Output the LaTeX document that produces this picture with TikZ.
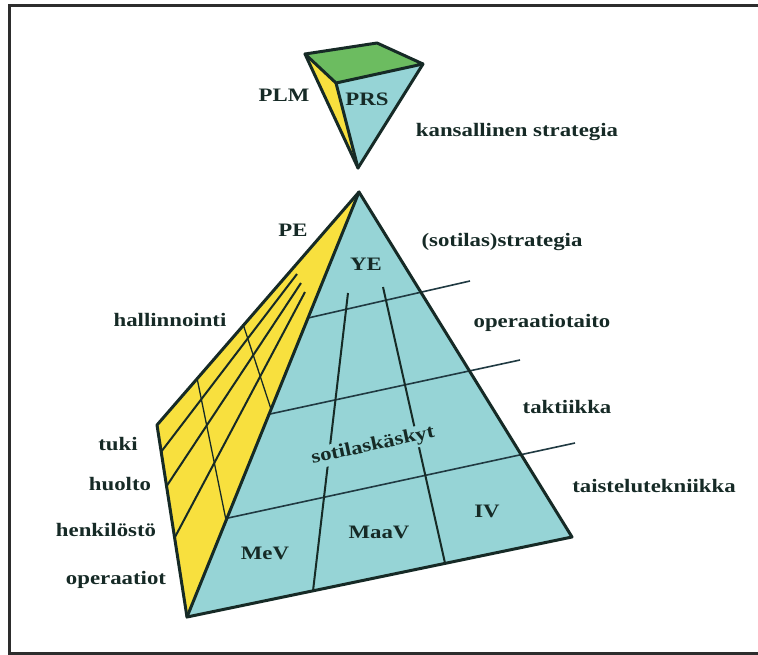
\documentclass[tikz,border=0pt]{standalone}
\usepackage{fontspec}
\setmainfont{Liberation Serif}[FakeStretch=1.2]
\definecolor{cy}{RGB}{150,212,214}
\definecolor{ye}{RGB}{248,224,62}
\definecolor{gr}{RGB}{108,188,96}
\definecolor{ed}{RGB}{22,42,38}
\definecolor{ln}{RGB}{32,58,66}
\definecolor{fr}{RGB}{45,45,45}
\begin{document}
\begin{tikzpicture}[x=1pt,y=-1pt,
  edge/.style={draw=ed,line width=3pt,line join=round,line cap=round},
  inner/.style={draw=ed,line width=2pt},
  thin/.style={draw=ed,line width=1.3pt},
  level/.style={draw=ln,line width=1.6pt},
  lbl/.style={font=\bfseries\fontsize{19}{22}\selectfont,text=ed,inner sep=1pt}]
\useasboundingbox (0,0) rectangle (758,654);
\fill[white] (0,0) rectangle (758,654);
% frame
\coordinate (F1) at (9.5,653);
\coordinate (F2) at (9.5,5.5);
\coordinate (F3) at (758,5.5);
\coordinate (F4) at (758,653);
\draw[fr,line width=3pt] (F3)--(F2)--(F1)--(F4);

% ---- small inverted pyramid ----
\coordinate (TL) at (305,54);
\coordinate (TB) at (377,43);
\coordinate (TR) at (423,64);
\coordinate (TF) at (336,83);
\coordinate (TT) at (358,168);
\fill[gr] (TL)--(TB)--(TR)--(TF)--cycle;
\fill[ye] (TL)--(TF)--(TT)--cycle;
\fill[cy] (TF)--(TR)--(TT)--cycle;
\draw[edge] (TL)--(TB)--(TR)--(TF)--cycle;
\draw[edge] (TL)--(TT)--(TR);
\draw[edge] (TF)--(TT);

% ---- main pyramid ----
\coordinate (A) at (359,192);
\coordinate (BL) at (187,617);
\coordinate (BR) at (572,537);
\coordinate (YL) at (157,425);
\fill[ye] (A)--(YL)--(BL)--cycle;
\fill[cy] (A)--(BL)--(BR)--cycle;

% yellow face lines
\coordinate (f1a) at (297,274); \coordinate (f1b) at (161,452);
\coordinate (f2a) at (301,283); \coordinate (f2b) at (166,487);
\coordinate (f3a) at (305,292); \coordinate (f3b) at (175,537);
\draw[inner] (f1a)--(f1b);
\draw[inner] (f2a)--(f2b);
\draw[inner] (f3a)--(f3b);
\coordinate (v1a) at (243,324); \coordinate (v1b) at (271,409);
\coordinate (v2a) at (197,378); \coordinate (v2b) at (226,520);
\draw[thin] (v1a)--(v1b);
\draw[thin] (v2a)--(v2b);

% cyan face level lines
\coordinate (l1a) at (308,318); \coordinate (l1b) at (470,281);
\coordinate (l2a) at (270,414); \coordinate (l2b) at (520,360);
\coordinate (l3a) at (228,518); \coordinate (l3b) at (575,443);
\draw[level] (l1a)--(l1b);
\draw[level] (l2a)--(l2b);
\draw[level] (l3a)--(l3b);
% verticals
\coordinate (va) at (348,293); \coordinate (vb) at (313,591);
\coordinate (wa) at (383,287); \coordinate (wb) at (445,563);
\draw[inner] (va)--(vb);
\draw[inner] (wa)--(wb);

\node[lbl,fill=cy,rotate=12,inner sep=2pt] (sk) at (373,446) {sotilaskäskyt};

% outer edges
\draw[edge] (A)--(YL)--(BL)--(BR)--cycle;
\draw[edge] (A)--(BL);

% ---- labels ----
\node[lbl] (plm) at (284,95) {PLM};
\node[lbl] (prs) at (367,99) {PRS};
\node[lbl] (kan) at (517,132) {kansallinen strategia};
\node[lbl] (pe) at (293,230) {PE};
\node[lbl] (sot) at (502,242) {(sotilas)strategia};
\node[lbl] (ye) at (366,264) {YE};
\node[lbl] (hal) at (170,320) {hallinnointi};
\node[lbl] (opt) at (542,323) {operaatiotaito};
\node[lbl] (tak) at (567,407) {taktiikka};
\node[lbl] (tai) at (654,486) {taistelutekniikka};
\node[lbl] (tuk) at (118,444) {tuki};
\node[lbl] (huo) at (120,484) {huolto};
\node[lbl] (hen) at (106,530) {henkilöstö};
\node[lbl] (ope) at (116,580) {operaatiot};
\node[lbl] (mev) at (265,553) {MeV};
\node[lbl] (maa) at (379,532) {MaaV};
\node[lbl] (iv) at (487,511) {IV};
\end{tikzpicture}
\end{document}
